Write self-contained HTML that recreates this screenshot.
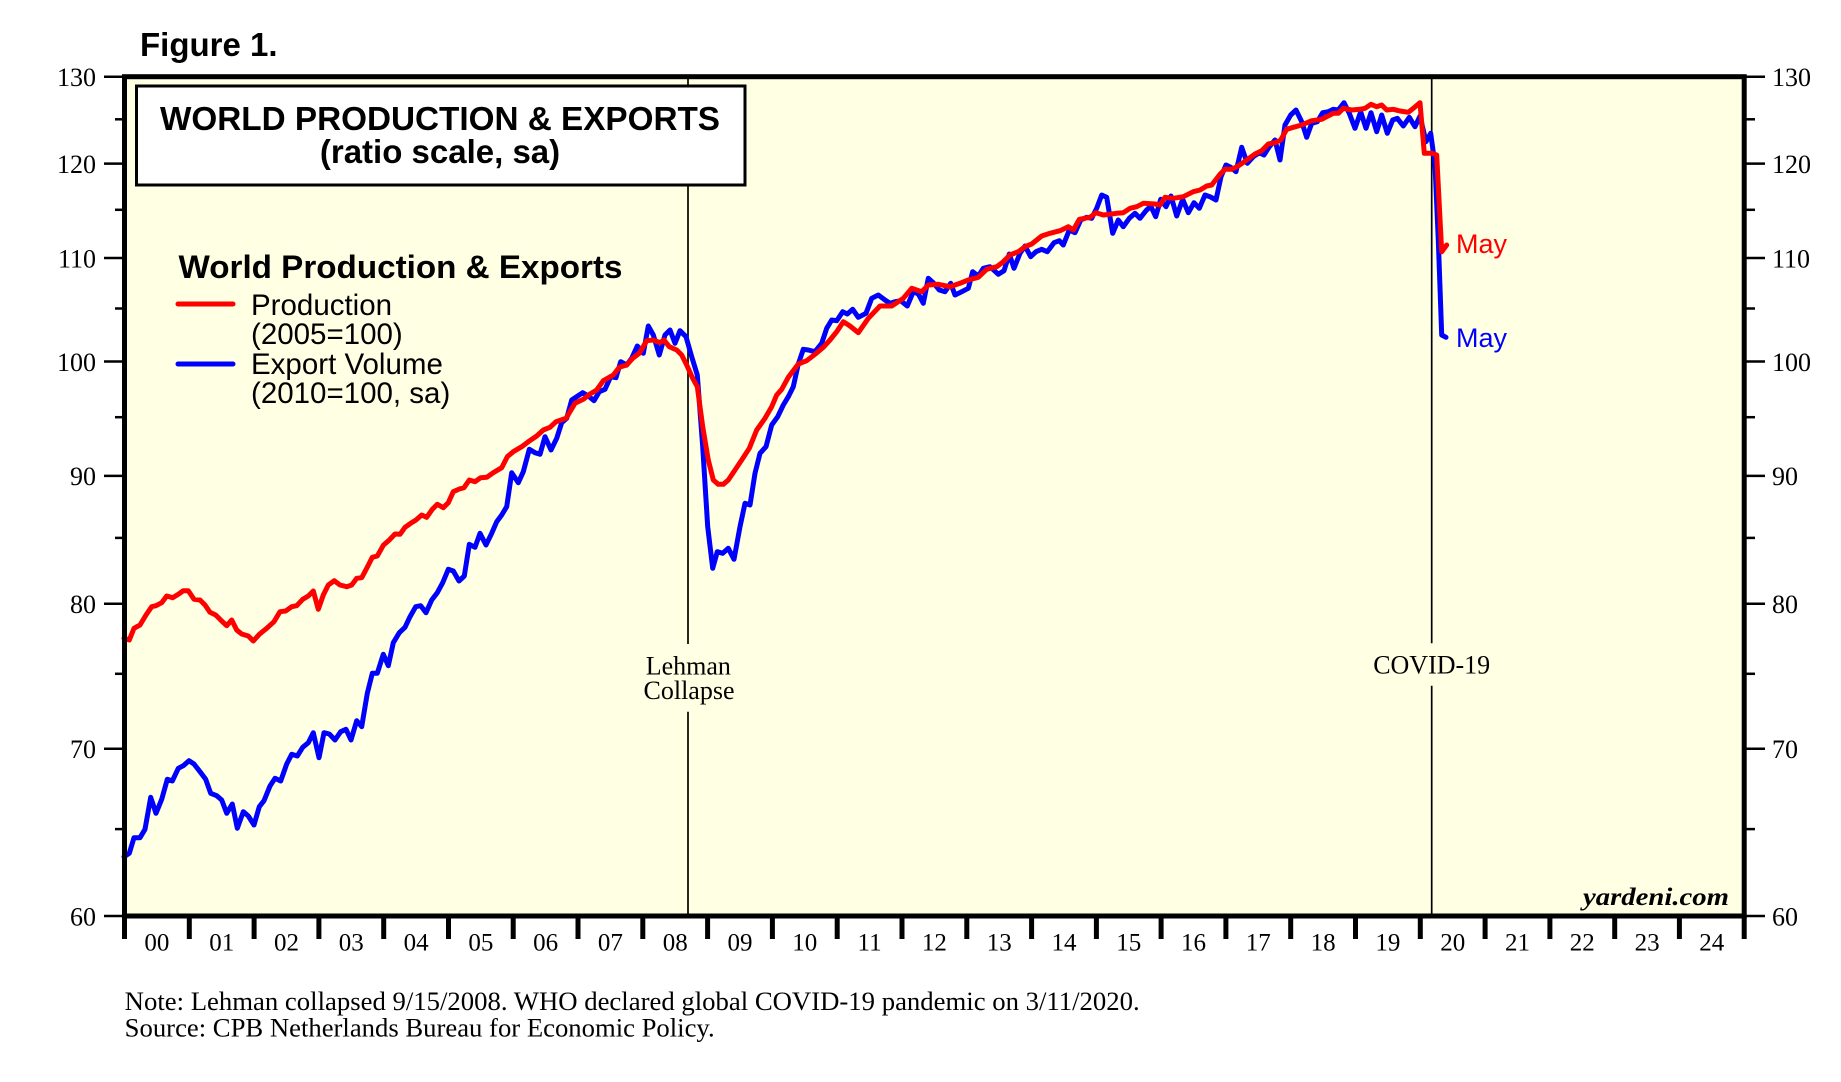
<!DOCTYPE html>
<html><head><meta charset="utf-8"><style>
html,body{margin:0;padding:0;background:#fff;}
svg{display:block;}
.s{font-family:"Liberation Serif",serif;}
.a{font-family:"Liberation Sans",sans-serif;}
</style></head><body>
<svg width="1841" height="1082" viewBox="0 0 1841 1082" xmlns="http://www.w3.org/2000/svg">
<rect x="0" y="0" width="1841" height="1082" fill="#fff"/>
<text x="140" y="56" class="a" font-size="33" font-weight="bold" fill="#000">Figure 1.</text>
<!-- plot background -->
<rect x="124.5" y="76.7" width="1619.7" height="839.3" fill="#FFFFE4"/>
<!-- event lines -->
<g stroke="#000" stroke-width="1.7">
<line x1="688" y1="79" x2="688" y2="644"/><line x1="688" y1="711.7" x2="688" y2="914"/>
<line x1="1431.7" y1="79" x2="1431.7" y2="643.3"/><line x1="1431.7" y1="685.7" x2="1431.7" y2="914"/>
</g>
<g class="s" font-size="26" fill="#000" text-anchor="middle">
<text x="688.3" y="674.5">Lehman</text>
<text x="689" y="699">Collapse</text>
<text x="1431.7" y="673.3">COVID-19</text>
</g>
<!-- data -->
<g fill="none" stroke-width="5" stroke-linejoin="round" stroke-linecap="round">
<polyline stroke="#0000FF" points="124,856.7 129.3,853.3 134,837.7 140,837.7 145,829.3 150.7,797.3 156,813.3 161.7,799.3 167.3,779.3 172.3,781 178.3,768.3 183.3,765.7 189,760.7 194,764 200,771.7 205.7,779.3 210.7,793.3 216.7,795.7 221.7,800 226.7,813.3 232.3,804 237.3,828.3 243.3,811.7 248.3,816 254,825 259.3,806.7 264,800.7 270,786 275,778.3 280.7,781 286.7,764 291.7,754.3 297.3,756 302.7,747.3 308.3,742.7 313.3,732.7 319,757.7 324,732.7 329.3,734 335,740 340.7,731.7 346,729.3 351,740 356.7,720.7 361.7,726.7 367.3,693.3 372.3,673.3 377.3,673.3 383.3,654.3 388.3,665.7 393.3,642.7 399.3,632.7 405,627.3 410,616.7 415.7,606.7 420.7,605.7 426,612.7 431.7,600 437.3,592.7 442.7,582.7 448.3,569.3 453.3,571 459,581 464.3,576 469.3,544.3 475,547.3 480,533.3 486,545 491.7,533.3 496.7,521.7 501.7,515 506.7,506.7 511.7,472.7 518.3,482.7 523.3,471.7 529.3,449.3 535,452.7 540,454.3 545,436.7 551,450 556.7,438.3 561.7,422.7 566.7,418.3 571.7,400 582.7,392.7 588.3,396 594,400.7 599.3,391.7 605,389.3 610.7,376.7 616,377.7 620.7,361.7 626.7,365 631.7,358.3 637.3,346 643.3,353.3 648.3,326 653.3,335 659.3,355 665,335 670,330 675,343.3 680,330.7 686,336.7 691.7,356.7 697.3,375 702.7,446.7 707.7,526.7 712.7,568.3 717.3,551.7 722.7,553.3 728.3,548.3 734,559.3 740,526.7 745,503.3 750,505 755,473.3 760,453.3 766,446.7 771.7,425 777.7,416.7 783.3,405 788.3,396.7 793.3,386.7 798.3,364 803.3,349.3 808.3,350 815,351.7 821.7,343.3 826.7,328.3 831.7,320 836.7,320.7 842.7,311.7 847.3,314 852.7,309.3 858.3,317.3 866,313.3 871.7,298.3 878.3,295 885,300 890,303.3 895,301.7 900.7,300.7 907.3,306 913.3,291.7 918.3,294 923.3,303.3 928.3,278.3 933.3,282.7 939.3,290 945,291.7 950.7,283.3 955,295 961.7,291.7 968.3,288.3 972.7,271.7 978.3,276 983.3,268.3 990,266.7 998.3,274.3 1004,270.7 1009.3,254 1014,268.3 1020,253.3 1025,246 1030.7,256.7 1036,251.7 1041.7,249.3 1047.3,251.7 1054,242.7 1059.3,240.7 1063.3,245 1069.3,230 1075,232.7 1080.7,220 1086.7,217.3 1091.7,218.3 1096.7,208.3 1101.7,195 1106.7,197.3 1112.7,233.3 1118.3,220 1123.3,226.7 1129.3,218.3 1135,213.3 1140,218.3 1146,210.7 1150.7,206 1155.7,216.7 1160.7,199.3 1166,206.7 1171,196 1176.7,216 1182.7,199.3 1188.3,212.7 1194,202.7 1199.3,208.3 1205,195 1210,196.7 1216,200 1221,176.7 1226,165 1230.7,167.3 1236,171.7 1241.7,147.3 1247.3,163.3 1253.3,156.7 1259.3,152.7 1264,155 1269.3,146.7 1275,140 1280,160 1285,125 1290.7,115 1296,110 1301.7,121.7 1306.7,137.3 1311.7,123.3 1317.3,121.7 1322.7,112.7 1328.3,111.7 1333.3,109.3 1338.3,110 1344,102.7 1349.3,113.3 1355,128.3 1360.7,111.7 1366,128.3 1371,112.7 1376.7,131.7 1381.7,115 1387.3,133.3 1392.7,120 1397.3,118.3 1403.3,126 1409.3,117.3 1415,126.7 1420,116 1426,141.7 1430.7,133.3 1435,165 1438.3,240 1441.7,335 1446,337.3"/>
<polyline stroke="#FF0000" points="124,638.3 129.3,640 134,628.3 140,625 146,615 151.7,606.7 156,605.7 161.7,602.7 166.7,596 172.7,597.7 178.3,594.3 183.3,590.7 188.3,590.7 194,599.3 200,600 205,605 210,612.3 215.7,615 221.7,621 226.7,625.7 231.7,620 236.7,630 241.7,634 248.3,636 253.3,641 259.3,634.3 266.7,628.3 274,621.7 280,611.7 285.7,611 291.7,606.7 296.7,605.7 302.7,599.3 308.3,596 313.3,591 318.3,609.3 323.3,595 328.3,585 334.3,580.7 340,585 346.7,586.7 351.7,585 356.7,578.3 361.7,577.7 366.7,568.3 372.3,557.3 377.3,556 383.3,545.3 389.3,540 395,534 400,534.3 405,527.3 410.7,523.3 416,520 421.7,515 426.7,517.3 432.3,509.3 437.3,504.3 443.3,507.7 448.3,502.7 453.3,491.7 459.3,489 464,487.7 469.3,480 475,481.7 480.7,477.7 486.7,477.3 493.3,472.7 501.7,467.7 507.3,456.7 513.3,451.7 521.7,446.7 528.3,441.7 536.7,436 543.3,430 550,427.3 556,421.7 566,418.3 575,403.3 583.3,399.3 590,394 596.7,390 603.3,380.7 613.3,375 619.3,367.3 626.7,365 632.7,358.3 639.3,353.3 646.7,340.7 653.3,340 660,342.7 664,340 669.3,346.7 676.7,350 681.7,355 686.7,365 692.7,378.3 697.3,386.7 702.7,426.7 708.3,460 713.3,480 718.3,484.3 723.3,484.3 728.3,480 735,470 741.7,460 749.3,448.3 756.7,430 765,418.3 771.7,406.7 776.7,395 781.7,389.3 788.3,377.3 798.3,364 806.7,360.7 815,354.3 823.3,347.3 830,340 836.7,331.7 843.3,321.7 850,326 858.3,332.7 868.3,318.3 880,306 891.7,306 903.3,298.3 911.7,288.3 921.7,291.7 928.3,285 938.3,284.3 950,286.7 960,283.3 968.3,280 978.3,277.3 986.7,269.3 996.7,266.7 1003.3,261.7 1010,255 1018.3,251.7 1025,246.7 1031.7,244 1041.7,236 1050,233.3 1060,230.7 1068.3,226.7 1073.3,230 1079.3,219.3 1090,217.3 1096,212.7 1103.3,215 1116.7,213.3 1123.3,212.7 1130,208.3 1136.7,206.7 1143.3,203.3 1155,204 1160,205 1165,197.3 1173.3,198.3 1183.3,196.7 1193.3,191.7 1200,190 1206.7,186 1211.7,185 1220,174.3 1225,169.3 1231.7,169.3 1238.3,166 1246.7,160 1255,154 1261.7,150.7 1268.3,144 1275,142.7 1280.7,140 1286.7,129.3 1293.3,127.3 1301.7,125 1311.7,120.7 1321.7,119.3 1333.3,113.3 1338.3,113.3 1343.3,108.3 1351.7,110 1360,109.3 1365,108.3 1371,104.3 1376.7,106.7 1381.7,105 1386.7,110 1393.3,109.3 1400,111 1408.3,112.3 1413.3,108.3 1420,102.7 1424.3,153.3 1431.7,153.3 1436.7,155 1441.7,251.7 1446.7,245"/>
</g>
<g class="a" font-size="27">
<text x="1456" y="253" fill="#FF0000">May</text>
<text x="1456" y="347" fill="#0000FF">May</text>
</g>
<!-- title box -->
<rect x="136.5" y="86" width="608.5" height="99" fill="#fff" stroke="#000" stroke-width="3"/>
<g class="a" font-weight="bold" font-size="33" text-anchor="middle" fill="#000">
<text x="440" y="130" textLength="560" lengthAdjust="spacingAndGlyphs">WORLD PRODUCTION &amp; EXPORTS</text>
<text x="440" y="163">(ratio scale, sa)</text>
</g>
<!-- legend -->
<text x="178.5" y="278" class="a" font-size="32" font-weight="bold" fill="#000" textLength="444" lengthAdjust="spacingAndGlyphs">World Production &amp; Exports</text>
<line x1="178" y1="304" x2="233" y2="304" stroke="#FF0000" stroke-width="5" stroke-linecap="round"/>
<line x1="178" y1="364" x2="233" y2="364" stroke="#0000FF" stroke-width="5" stroke-linecap="round"/>
<g class="a" font-size="29.5" fill="#000">
<text x="251" y="315">Production</text>
<text x="251" y="344">(2005=100)</text>
<text x="251" y="374">Export Volume</text>
<text x="251" y="403">(2010=100, sa)</text>
</g>
<text x="1729" y="905" class="s" font-size="25" font-weight="bold" font-style="italic" text-anchor="end" fill="#000" textLength="146" lengthAdjust="spacingAndGlyphs">yardeni.com</text>
<!-- frame -->
<rect x="124.5" y="76.7" width="1619.7" height="839.3" fill="none" stroke="#000" stroke-width="5"/>
<!-- y ticks -->
<g stroke="#000" stroke-width="2.5">
<line x1="104" y1="916" x2="124" y2="916"/><line x1="1745" y1="916" x2="1765" y2="916"/>
<line x1="115" y1="829.1" x2="124" y2="829.1"/><line x1="1745" y1="829.1" x2="1755" y2="829.1"/>
<line x1="104" y1="748.7" x2="124" y2="748.7"/><line x1="1745" y1="748.7" x2="1765" y2="748.7"/>
<line x1="115" y1="673.8" x2="124" y2="673.8"/><line x1="1745" y1="673.8" x2="1755" y2="673.8"/>
<line x1="104" y1="603.7" x2="124" y2="603.7"/><line x1="1745" y1="603.7" x2="1765" y2="603.7"/>
<line x1="115" y1="537.9" x2="124" y2="537.9"/><line x1="1745" y1="537.9" x2="1755" y2="537.9"/>
<line x1="104" y1="475.9" x2="124" y2="475.9"/><line x1="1745" y1="475.9" x2="1765" y2="475.9"/>
<line x1="115" y1="417.2" x2="124" y2="417.2"/><line x1="1745" y1="417.2" x2="1755" y2="417.2"/>
<line x1="104" y1="361.5" x2="124" y2="361.5"/><line x1="1745" y1="361.5" x2="1765" y2="361.5"/>
<line x1="115" y1="308.5" x2="124" y2="308.5"/><line x1="1745" y1="308.5" x2="1755" y2="308.5"/>
<line x1="104" y1="258" x2="124" y2="258"/><line x1="1745" y1="258" x2="1765" y2="258"/>
<line x1="115" y1="209.8" x2="124" y2="209.8"/><line x1="1745" y1="209.8" x2="1755" y2="209.8"/>
<line x1="104" y1="163.6" x2="124" y2="163.6"/><line x1="1745" y1="163.6" x2="1765" y2="163.6"/>
<line x1="115" y1="119.3" x2="124" y2="119.3"/><line x1="1745" y1="119.3" x2="1755" y2="119.3"/>
<line x1="104" y1="76.7" x2="124" y2="76.7"/><line x1="1745" y1="76.7" x2="1765" y2="76.7"/>
</g>
<g class="s" font-size="26" fill="#000" text-anchor="end">
<text x="96" y="925.5">60</text><text x="96" y="758">70</text><text x="96" y="613">80</text><text x="96" y="485">90</text>
<text x="96" y="371">100</text><text x="96" y="267.5">110</text><text x="96" y="173">120</text><text x="96" y="86">130</text>
</g>
<g class="s" font-size="26" fill="#000">
<text x="1772" y="925.5">60</text><text x="1772" y="758">70</text><text x="1772" y="613">80</text><text x="1772" y="485">90</text>
<text x="1772" y="371">100</text><text x="1772" y="267.5">110</text><text x="1772" y="173">120</text><text x="1772" y="86">130</text>
</g>
<!-- x ticks -->
<g stroke="#000" stroke-width="5">
<line x1="124.5" y1="916" x2="124.5" y2="939"/><line x1="189.3" y1="916" x2="189.3" y2="939"/><line x1="254.1" y1="916" x2="254.1" y2="939"/><line x1="318.9" y1="916" x2="318.9" y2="939"/><line x1="383.7" y1="916" x2="383.7" y2="939"/><line x1="448.5" y1="916" x2="448.5" y2="939"/><line x1="513.2" y1="916" x2="513.2" y2="939"/><line x1="578" y1="916" x2="578" y2="939"/><line x1="642.8" y1="916" x2="642.8" y2="939"/><line x1="707.6" y1="916" x2="707.6" y2="939"/><line x1="772.4" y1="916" x2="772.4" y2="939"/><line x1="837.2" y1="916" x2="837.2" y2="939"/><line x1="902" y1="916" x2="902" y2="939"/><line x1="966.8" y1="916" x2="966.8" y2="939"/><line x1="1031.6" y1="916" x2="1031.6" y2="939"/><line x1="1096.4" y1="916" x2="1096.4" y2="939"/><line x1="1161.1" y1="916" x2="1161.1" y2="939"/><line x1="1225.9" y1="916" x2="1225.9" y2="939"/><line x1="1290.7" y1="916" x2="1290.7" y2="939"/><line x1="1355.5" y1="916" x2="1355.5" y2="939"/><line x1="1420.3" y1="916" x2="1420.3" y2="939"/><line x1="1485.1" y1="916" x2="1485.1" y2="939"/><line x1="1549.9" y1="916" x2="1549.9" y2="939"/><line x1="1614.7" y1="916" x2="1614.7" y2="939"/><line x1="1679.4" y1="916" x2="1679.4" y2="939"/><line x1="1744.2" y1="916" x2="1744.2" y2="939"/>
</g>
<g class="s" font-size="25" fill="#000" text-anchor="middle">
<text x="156.9" y="950.5">00</text><text x="221.7" y="950.5">01</text><text x="286.5" y="950.5">02</text><text x="351.3" y="950.5">03</text><text x="416.1" y="950.5">04</text><text x="480.9" y="950.5">05</text><text x="545.6" y="950.5">06</text><text x="610.4" y="950.5">07</text><text x="675.2" y="950.5">08</text><text x="740" y="950.5">09</text><text x="804.8" y="950.5">10</text><text x="869.6" y="950.5">11</text><text x="934.4" y="950.5">12</text><text x="999.2" y="950.5">13</text><text x="1064" y="950.5">14</text><text x="1128.8" y="950.5">15</text><text x="1193.5" y="950.5">16</text><text x="1258.3" y="950.5">17</text><text x="1323.1" y="950.5">18</text><text x="1387.9" y="950.5">19</text><text x="1452.7" y="950.5">20</text><text x="1517.5" y="950.5">21</text><text x="1582.3" y="950.5">22</text><text x="1647.1" y="950.5">23</text><text x="1711.8" y="950.5">24</text>
</g>
<g class="s" font-size="26.5" fill="#000">
<text x="124.7" y="1010" textLength="1015" lengthAdjust="spacingAndGlyphs">Note: Lehman collapsed 9/15/2008. WHO declared global COVID-19 pandemic on 3/11/2020.</text>
<text x="124.7" y="1036.5" textLength="590" lengthAdjust="spacingAndGlyphs">Source: CPB Netherlands Bureau for Economic Policy.</text>
</g>
</svg>
</body></html>
